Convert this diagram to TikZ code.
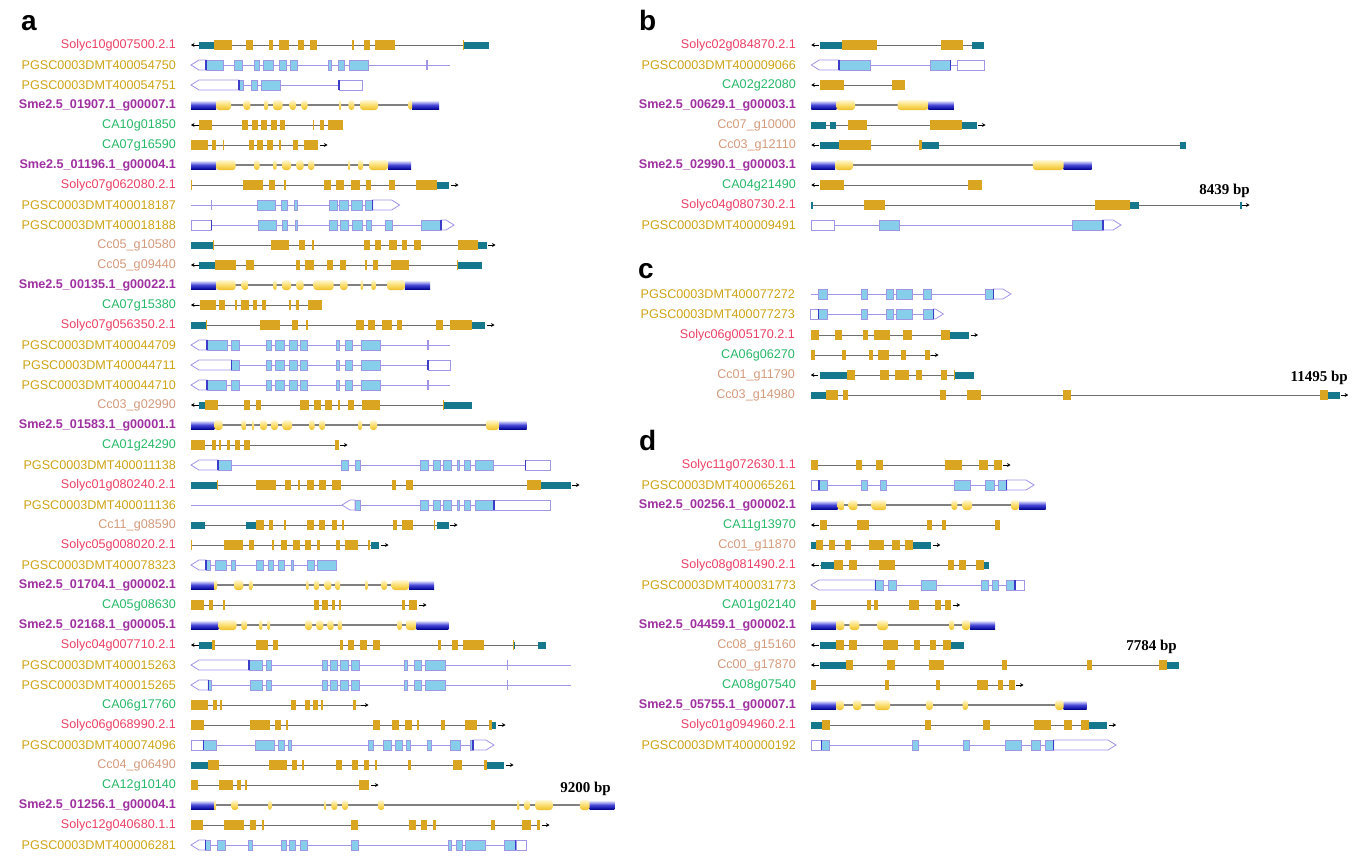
\documentclass[tikz,border=0pt]{standalone}
\usepackage{fontspec}
\setmainfont{Liberation Sans}
\newfontfamily\lserif{Liberation Serif}
\usetikzlibrary{arrows.meta}
\definecolor{solc}{RGB}{236,64,100}
\definecolor{pgsc}{RGB}{206,164,22}
\definecolor{smec}{RGB}{158,48,160}
\definecolor{cac}{RGB}{38,184,104}
\definecolor{ccc}{RGB}{212,154,124}
\definecolor{goldc}{RGB}{218,165,32}
\definecolor{tealc}{RGB}{22,120,140}
\definecolor{intronc}{RGB}{110,110,110}
\definecolor{skyc}{RGB}{135,206,235}
\definecolor{lavc}{RGB}{160,150,230}
\definecolor{markc}{RGB}{60,60,200}
\definecolor{slinec}{RGB}{128,128,128}
\definecolor{sutrtop}{RGB}{225,225,252}
\definecolor{sutrmid}{RGB}{70,70,215}
\definecolor{sutrbot}{RGB}{5,5,150}
\definecolor{sextop}{RGB}{255,248,212}
\definecolor{sexmid}{RGB}{250,222,110}
\definecolor{sexbot}{RGB}{238,190,40}
\tikzset{
 lab/.style={anchor=east, inner sep=0pt, font=\fontsize{12.6}{14}\selectfont},
 smelab/.style={lab, font=\fontsize{12.6}{14}\selectfont\bfseries},
 panel/.style={anchor=base west, inner sep=0pt, font=\fontsize{28}{30}\selectfont\bfseries},
 bplab/.style={anchor=base east, inner sep=0pt, font=\lserif\fontsize{15}{17}\selectfont\bfseries},
 intr/.style={draw=intronc, line width=0.9pt},
 arr/.style={draw=black, line width=0.8pt, -{Stealth[length=3.5pt,width=4pt]}},
 pline/.style={draw=lavc, line width=0.9pt},
 pbox/.style={draw=lavc, fill=skyc, line width=0.8pt},
 pwbox/.style={draw=lavc, fill=white, line width=0.8pt},
 pmark/.style={draw=markc, line width=1.1pt},
 ptick/.style={draw=lavc, line width=1.1pt},
 sline/.style={draw=slinec, line width=2.4pt},
 sutr/.style={top color=sutrtop, bottom color=sutrbot, middle color=sutrmid},
 sex/.style={top color=sextop, bottom color=sexbot, middle color=sexmid},
}
\newcommand{\Tl}[3]{\draw[intr] (#2,#1) -- (#3,#1);}
\newcommand{\Tc}[2]{\foreach \xa/\xb in {#2} {\fill[goldc] (\xa,#1-5) rectangle (\xb,#1+5);}}
\newcommand{\Tu}[2]{\foreach \xa/\xb in {#2} {\fill[tealc] (\xa,#1-3.5) rectangle (\xb,#1+3.5);}}
\newcommand{\La}[2]{\draw[arr] (#2+7.5,#1) -- (#2,#1);}
\newcommand{\Ra}[2]{\draw[arr] (#2,#1) -- (#2+7.5,#1);}
\newcommand{\Pl}[3]{\draw[pline] (#2,#1) -- (#3,#1);}
\newcommand{\Pe}[2]{\foreach \xa/\xb in {#2} {\filldraw[pbox] (\xa,#1-5) rectangle (\xb,#1+5);}}
\newcommand{\Pu}[2]{\foreach \xa/\xb in {#2} {\filldraw[pwbox] (\xa,#1-5) rectangle (\xb,#1+5);}}
\newcommand{\Pml}[3]{\filldraw[pwbox] (#2,#1) -- (#2+8,#1-5) -- (#3,#1-5) -- (#3,#1+5) -- (#2+8,#1+5) -- cycle;}
\newcommand{\Pmr}[3]{\filldraw[pwbox] (#2,#1-5) -- (#3-8,#1-5) -- (#3,#1) -- (#3-8,#1+5) -- (#2,#1+5) -- cycle;}
\newcommand{\Pk}[2]{\foreach \xa in {#2} {\draw[pmark] (\xa,#1-5) -- (\xa,#1+5);}}
\newcommand{\Pt}[2]{\foreach \xa in {#2} {\draw[ptick] (\xa,#1-5) -- (\xa,#1+5);}}
\newcommand{\Sl}[3]{\draw[sline] (#2,#1) -- (#3,#1);}
\newcommand{\Su}[2]{\foreach \xa/\xb in {#2} {\shade[sutr] (\xa,#1-4) rectangle (\xb,#1+4);}}
\newcommand{\Se}[2]{\foreach \xa/\xb in {#2} {\pgfmathsetmacro\rr{min(3,(\xb-\xa)/2)}\shade[sex, rounded corners=\rr pt] (\xa,#1-5) rectangle (\xb,#1+5);}}
\begin{document}
\begin{tikzpicture}[x=1pt,y=-1pt]
\useasboundingbox[fill=white] (0,0) rectangle (1359,862);
% panel letters
\node[panel] (pa) at (21,30) {a};
\node[panel] (pb) at (639,30) {b};
\node[panel] (pc) at (638,278) {c};
\node[panel] (pd) at (639,450) {d};
% ================= panel a =================
\node[lab,text=solc] (a1) at (176,45) {Solyc10g007500.2.1};
\La{45}{191}\Tl{45}{199}{489}\Tu{45}{199/213.5,463.5/489}
\Tc{45}{213.5/232,246/253,269/273,279/289,298/304,310/317,352/354,363.5/369.5,375/395,463/464}
\node[lab,text=pgsc] (a2) at (176,65) {PGSC0003DMT400054750};
\Pl{65}{206}{450}\Pml{65}{191}{206}
\Pe{65}{206/223.5,234/242.5,254/259.5,263/273,279/286.5,290.5/297.6,328.6/331.7,338/344.4,349/368}\Pt{65}{427}\Pk{65}{206}
\node[lab,text=pgsc] (a3) at (176,85) {PGSC0003DMT400054751};
\Pl{85}{239}{339}\Pml{85}{191}{239}\Pe{85}{239/243.7,251/257,261.5/280.5}\Pu{85}{339/362}\Pk{85}{239,339}
\node[smelab,text=smec] (a4) at (176,105) {Sme2.5\_01907.1\_g00007.1};
\Sl{105}{191}{439}\Su{105}{191/216,412/439}
\Se{105}{216/231,243.7/250.4,264/268,273/282.5,289.7/296,301.6/307.5,339/341,348.4/354.4,360/378,408.7/412}
\node[lab,text=cac] (a5) at (176,125) {CA10g01850};
\La{125}{191}\Tl{125}{199}{343}
\Tc{125}{199/212,242/248,252/258,260.7/267,271/276.6,280/285,313/314.3,320/324,327.8/343}
\node[lab,text=cac] (a6) at (176,145) {CA07g16590};
\Tl{145}{191}{318}\Tc{145}{191/208,212/216,222.6/223.8,249/254.4,257/263,267/273.4,278.6/281,293/298,304/318}\Ra{145}{320}
\node[smelab,text=smec] (a7) at (176,165) {Sme2.5\_01196.1\_g00004.1};
\Sl{165}{191}{411}\Su{165}{191/216,388/411}
\Se{165}{216/235.7,254/259.5,273/276.6,282/291,296.4/303.6,308/314.3,348/350,358/363,369/388}
\node[lab,text=solc] (a8) at (176,185) {Solyc07g062080.2.1};
\Tl{185}{191}{449}\Tc{185}{191/192,242.5/262.7,269/275,283.7/286,324/331,336/343.6,350.8/360,366/371,388.5/395,415.5/436.5}
\Tu{185}{436.5/449}\Ra{185}{451}
\node[lab,text=pgsc] (a9) at (176,205) {PGSC0003DMT400018187};
\Pl{205}{191}{372.6}\Pt{205}{211.5}\Pe{205}{257/275.4,281/287.7,294/297.6,329.8/337,339.7/348,351.6/362,365.5/372.6}
\Pmr{205}{372.6}{399.6}\Pk{205}{372.6}
\node[lab,text=pgsc] (a10) at (176,225) {PGSC0003DMT400018188};
\Pl{225}{211.5}{441}\Pu{225}{191/211.5}\Pe{225}{258/276.6,282.5/287.7,295/297.6,329.8/337,340.5/348.4,352.4/362,366/371,385/392,421/441}
\Pmr{225}{441}{454}\Pk{225}{211.5,441}
\node[lab,text=ccc] (a11) at (176,245) {Cc05\_g10580};
\Tl{245}{191}{487}\Tu{245}{191/212.7,478/487}
\Tc{245}{212.5/213.5,271/289,299/304.8,312/314.3,363.5/370,374.6/381.3,388.5/397,402.4/406.7,414/421,457.5/478}\Ra{245}{488}
\node[lab,text=ccc] (a12) at (176,265) {Cc05\_g09440};
\La{265}{191}\Tl{265}{199}{482}\Tu{265}{199/214.7,457/482}
\Tc{265}{214.7/235.7,246.4/253.6,296/300,305/314.3,327/333,340/346.4,364.7/367,373/378,391/409,456.5/457.5}
\node[smelab,text=smec] (a13) at (176,285) {Sme2.5\_00135.1\_g00022.1};
\Sl{285}{191}{430}\Su{285}{191/216,404.8/430}
\Se{285}{216/235.7,241.7/248.4,273.4/276.6,282/291,296.4/303.6,313.5/333.7,340/347.6,360.7/363,371.4/375.8,387/404.8}
\node[lab,text=cac] (a14) at (176,305) {CA07g15380};
\La{305}{191}\Tl{305}{199}{321.8}
\Tc{305}{200.4/216,219/225,235/237.3,241.3/248.8,252.8/257,261.5/266.3,288.5/291,295.6/299,307.5/321.8}
\node[lab,text=solc] (a15) at (176,325) {Solyc07g056350.2.1};
\Tl{325}{191}{485}\Tu{325}{191/206,472/485}
\Tc{325}{206/207,260/280,292/298,306/308.3,356.3/363.5,368/375.4,382/392,396.8/401.6,435.7/443.3,449.6/472}\Ra{325}{487}
\node[lab,text=pgsc] (a16) at (176,345) {PGSC0003DMT400044709};
\Pl{345}{207}{450}\Pml{345}{191}{207}
\Pe{345}{207/227,231.7/239.3,266/271.4,275.4/284.5,289/297,300.4/307.5,336/339.3,345.6/352.4,361.5/380}\Pt{345}{428}\Pk{345}{207}
\node[lab,text=pgsc] (a17) at (176,365) {PGSC0003DMT400044711};
\Pl{365}{231.7}{428}\Pml{365}{191}{231.7}
\Pe{365}{231.7/239.3,266/271.4,275.4/284.5,289/297,300.4/307.5,336/339.3,345.6/352.4,361.5/380}\Pu{365}{428/450}\Pk{365}{231.7,428}
\node[lab,text=pgsc] (a18) at (176,385) {PGSC0003DMT400044710};
\Pl{385}{207}{450}\Pml{385}{191}{207}
\Pe{385}{207/226.6,231.7/239.3,266/271.4,275.4/284.5,289/297,300.4/307.5,336/339.3,345.6/352.4,361.5/380}\Pt{385}{428}\Pk{385}{207}
\node[lab,text=ccc] (a19) at (176,405) {Cc03\_g02990};
\La{405}{191}\Tl{405}{199}{471.8}\Tu{405}{199/205,443/471.8}
\Tc{405}{205/218,244/250.4,256.3/260.7,300/309,314.3/320.6,325.4/331.7,338/340,348.4/353.6,362/380,442.5/443.5}
\node[smelab,text=smec] (a20) at (176,425) {Sme2.5\_01583.1\_g00001.1};
\Sl{425}{191}{526.6}\Su{425}{191/214.3,499/526.6}
\Se{425}{214.3/222.6,241.3/246.4,252/254,260/267,271/277.8,282.5/292,309/314.7,319.4/325,358/362,370/377,486/499}
\node[lab,text=cac] (a21) at (176,445) {CA01g24290};
\Tl{445}{191}{338.5}\Tc{445}{191/205,211.5/215.5,219/221.4,226.6/230,235/239.7,243.7/250.4,334.5/338.5}\Ra{445}{340}
\node[lab,text=pgsc] (a22) at (176,465) {PGSC0003DMT400011138};
\Pl{465}{218}{525.8}\Pml{465}{191}{218}
\Pe{465}{218/231.3,341.7/348.8,355/360.3,420/428.6,433/440,443.7/451,457.5/459.5,463.9/470.6,475/493.3}\Pu{465}{525.8/550.4}\Pk{465}{218,525.8}
\node[lab,text=solc] (a23) at (176,485) {Solyc01g080240.2.1};
\Tl{485}{191}{570.6}\Tu{485}{191/217.5,541/570.6}
\Tc{485}{217/218,256/275.8,285.3/291.3,297.6/299.6,306.7/314,319/325.8,331.7/341.3,391.7/396.4,405.6/413,526.6/541}\Ra{485}{572}
\node[lab,text=pgsc] (a24) at (176,505) {PGSC0003DMT400011136};
\Pl{505}{191}{494}\Pml{505}{342}{355}
\Pe{505}{355/360.3,420/428.6,433/440,443.7/451,457.5/459.5,463.9/470.6,475/494}\Pu{505}{494/550.4}\Pk{505}{494}
\node[lab,text=ccc] (a25) at (176,525) {Cc11\_g08590};
\Tl{525}{191}{448.8}\Tu{525}{191/205,246.4/256.3,436.5/448.8}
\Tc{525}{256.3/263.5,268.7/273.4,284/286,307/314,319/325.4,331.7/337,341.7/343.6,393/397,402.4/412.7,433.5/434.5}\Ra{525}{450}
\node[lab,text=solc] (a26) at (176,545) {Solyc05g008020.2.1};
\Tl{545}{191}{379.4}
\Tc{545}{191/192,223.8/243.3,248.8/254.4,271.8/273.8,280.6/287.3,292.9/300,305/311,316.7/319.8,335.7/340,345.2/357.5,367.9/369.8}
\Tu{545}{371/379.4}\Ra{545}{381}
\node[lab,text=pgsc] (a27) at (176,565) {PGSC0003DMT400078323};
\Pl{565}{206}{336.5}\Pml{565}{191}{206}
\Pe{565}{206/210.3,215.5/226.2,231.3/235,256.7/263.5,267.9/273.8,278.6/284.5,290.9/292.9,307.5/314,317.5/336.5}\Pk{565}{206}
\node[smelab,text=smec] (a28) at (176,585) {Sme2.5\_01704.1\_g00002.1};
\Sl{585}{191}{434}\Su{585}{191/214.3,409/434}
\Se{585}{214.3/217,234/243.3,248.8/252.8,306/308.7,313.9/319,324.6/331.3,335.3/340,365/367.9,381.3/387,391.7/409}
\node[lab,text=cac] (a29) at (176,605) {CA05g08630};
\Tl{605}{191}{417}\Tc{605}{191/204.4,208.7/212.7,223/225,313.9/319,321.8/327.8,331.7/335.3,338.9/341.3,401.6/405,408.7/417}\Ra{605}{419}
\node[smelab,text=smec] (a30) at (176,625) {Sme2.5\_02168.1\_g00005.1};
\Sl{625}{191}{448.4}\Su{625}{191/218.3,416.7/448.4}
\Se{625}{218.3/236.5,241.3/247.2,259.5/262.3,267/270.2,305/312,316.3/323.4,327.4/333.7,337.7/342,397.2/402,406/416.7}
\node[lab,text=solc] (a31) at (176,645) {Solyc04g007710.2.1};
\La{645}{191}\Tl{645}{199}{546}\Tu{645}{199/212.3,513/515,537.7/546}
\Tc{645}{212.3/214.7,255.6/268.3,273/277.8,339.7/342.9,348.4/354.4,359.5/367,373/379.8,437.7/440.5,451.6/457.5,462.7/483.7,512.5/513.5}
\node[lab,text=pgsc] (a32) at (176,665) {PGSC0003DMT400015263};
\Pl{665}{249}{570.6}\Pml{665}{191}{249}
\Pe{665}{249/262.7,265.9/271,322.2/327,330.6/337.3,340.5/348.4,351.6/359,404/407.5,414.3/421,425.8/445.2}\Pt{665}{507.5}\Pk{665}{249}
\node[lab,text=pgsc] (a33) at (176,685) {PGSC0003DMT400015265};
\Pl{685}{208.3}{570.6}\Pml{685}{191}{208.3}
\Pe{685}{208.3/211,250/262.7,265.9/271,322.2/327,330.6/337.3,340.5/348.4,351.6/359,404/407.5,414.3/421,425.8/445.2}\Pt{685}{507.5}\Pk{685}{208.3}
\node[lab,text=cac] (a34) at (176,705) {CA06g17760};
\Tl{705}{191}{361}\Tc{705}{191/208.3,213/216.7,220.2/222.2,290.9/295.6,304.8/309.5,313/317.9,321.4/323.4,352.8/356}\Ra{705}{361}
\node[lab,text=solc] (a35) at (176,725) {Solyc06g068990.2.1};
\Tl{725}{191}{496.4}
\Tc{725}{191/204.4,250.4/270,275.4/280.6,286/288,373.4/379.8,391.7/398.8,404.8/411.5,416.7/419.4,440.9/445.2,465/477,489/492}
\Tu{725}{492/496.4}\Ra{725}{498}
\node[lab,text=pgsc] (a36) at (176,745) {PGSC0003DMT400074096};
\Pl{745}{203.2}{473}\Pu{745}{191/203.2}
\Pe{745}{203.2/216.3,255.2/274.6,278.6/284,288/291,367.9/373.8,383.7/390.9,395.6/402,406/410,427.8/431.7,450/460.3,470.2/473}
\Pmr{745}{473}{494}\Pk{745}{203.2,473}
\node[lab,text=ccc] (a37) at (176,765) {Cc04\_g06490};
\Tl{765}{191}{504}\Tu{765}{191/208,487/504}
\Tc{765}{208/218.7,269/287,291.7/296.8,302.4/304.4,335.7/341.7,352/358.3,363.9/369.4,375/377,407.5/411,452.8/462.3,483.7/487}\Ra{765}{506}
\node[lab,text=cac] (a38) at (176,785) {CA12g10140};
\Tl{785}{191}{369.4}\Tc{785}{191/198.4,219.4/233.3,237.3/241.3,244.8/246.8,359/369.4}\Ra{785}{371}
\node[bplab] (bpa) at (611,792) {9200 bp};
\node[smelab,text=smec] (a39) at (176,805) {Sme2.5\_01256.1\_g00004.1};
\Sl{805}{191}{614.3}\Su{805}{191/214.3,589.7/614.3}
\Se{805}{214.3/216.3,231.3/238.5,268.3/271.4,324.6/326.2,331.3/337.3,342/348,377.8/384.5,517/519.4,524.2/529.8,535.3/552.8,579.8/589.7}
\node[lab,text=solc] (a40) at (176,825) {Solyc12g040680.1.1};
\Tl{825}{191}{540}
\Tc{825}{191/203.2,224.2/244,250.4/256,262/264.3,350.8/358.3,408.7/415.5,421/427.4,432.5/435.7,491.3/495.2,521.8/530.6,537.3/540}\Ra{825}{542}
\node[lab,text=pgsc] (a41) at (176,845) {PGSC0003DMT400006281};
\Pl{845}{205.6}{515.9}\Pml{845}{191}{205.6}
\Pe{845}{205.6/210.3,217/225.8,248/252.8,281.7/286.5,289.3/295.6,300.4/307.5,351.2/358.7,448.4/451.6,456/462.3,465.5/485.3,504.8/515.9}
\Pu{845}{515.9/526.2}\Pk{845}{205.6,515.9}
% ================= panel b =================
\node[lab,text=solc] (b1) at (796,45) {Solyc02g084870.2.1};
\La{45}{811.3}\Tl{45}{819.7}{984.4}\Tu{45}{819.7/842.3,972/984.4}\Tc{45}{842.3/876.8,941/962.5}
\node[lab,text=pgsc] (b2) at (796,65) {PGSC0003DMT400009066};
\Pl{65}{839}{957.4}\Pml{65}{811.3}{839}\Pe{65}{839/870.5,930.4/950.2}\Pu{65}{957.4/984}\Pk{65}{839,950.2}
\node[lab,text=cac] (b3) at (796,85) {CA02g22080};
\La{85}{811.3}\Tl{85}{819.7}{905.4}\Tc{85}{819.7/843.5,891.9/905.4}
\node[smelab,text=smec] (b4) at (796,105) {Sme2.5\_00629.1\_g00003.1};
\Sl{105}{811.3}{953.8}\Su{105}{811.3/836.3,928.4/953.8}\Se{105}{836.3/855,897.5/928.4}
\node[lab,text=ccc] (b5) at (796,125) {Cc07\_g10000};
\Tl{125}{811.3}{976.8}\Tu{125}{811.3/826.4,830.4/836.3,962/976.8}\Tc{125}{847.5/867,930/962}\Ra{125}{978}
\node[lab,text=ccc] (b6) at (796,145) {Cc03\_g12110};
\La{145}{811.3}\Tl{145}{819.7}{1185.6}\Tu{145}{819.7/839,922/938.7,1180.4/1185.6}\Tc{145}{839/870.5,918.9/922}
\node[smelab,text=smec] (b7) at (796,165) {Sme2.5\_02990.1\_g00003.1};
\Sl{165}{811.3}{1091.5}\Su{165}{811.3/835.2,1063.7/1091.5}\Se{165}{835.2/853,1032.8/1063.7}
\node[lab,text=cac] (b8) at (796,185) {CA04g21490};
\La{185}{811.3}\Tl{185}{819.7}{982}\Tc{185}{819.7/843.9,967.7/982}
\node[bplab] (bpb) at (1250,194) {8439 bp};
\node[lab,text=solc] (b9) at (796,205) {Solyc04g080730.2.1};
\Tl{205}{811}{1241}\Tu{205}{811/812.5,1130/1139,1240/1241.5}\Tc{205}{864/884.8,1095/1130}\Ra{205}{1242}
\node[lab,text=pgsc] (b10) at (796,225) {PGSC0003DMT400009491};
\Pl{225}{834.4}{1103}\Pu{225}{811.3/834.4}\Pe{225}{879/899,1072.5/1103}\Pmr{225}{1103}{1121}\Pk{225}{1103}
% ================= panel c =================
\node[lab,text=pgsc] (c1) at (795,294) {PGSC0003DMT400077272};
\Pl{294}{810.8}{993.4}\Pe{294}{818.6/826.9,860.9/866.9,886.7/893.1,896.8/912,923/931.3,985.1/993.4}\Pmr{294}{993.4}{1010.9}\Pk{294}{993.4}
\node[lab,text=pgsc] (c2) at (795,314) {PGSC0003DMT400077273};
\Pl{314}{818.6}{933.6}\Pu{314}{810.8/818.6}\Pe{314}{818.6/826.9,861.8/866.9,886.7/893.1,896.8/912,923/933.6}\Pmr{314}{933.6}{943.3}\Pk{314}{818.6,933.6}
\node[lab,text=solc] (c3) at (795,335) {Solyc06g005170.2.1};
\Tl{335}{810.8}{969}\Tc{335}{810.8/819,835.2/841.6,862.8/868.3,873.8/890.4,902.8/911.5,941.4/949.7}\Tu{335}{949.7/969}\Ra{335}{970.5}
\node[lab,text=cac] (c4) at (795,355) {CA06g06270};
\Tl{355}{810.8}{931}\Tc{355}{810.8/815.4,841.6/845.7,868.7/872.9,878.4/889,901.4/906.4,924.8/929.9}\Ra{355}{931}
\node[lab,text=ccc] (c5) at (795,375) {Cc01\_g11790};
\La{375}{810.8}\Tl{375}{819.5}{974}\Tu{375}{819.5/847,955.2/974}\Tc{375}{847/854.5,880.2/888.5,894.5/908.7,915.6/921.6,941.4/946.9,953.8/955.2}
\node[bplab] (bpc) at (1348,381) {11495 bp};
\node[lab,text=ccc] (c6) at (795,395) {Cc03\_g14980};
\Tl{395}{810.8}{1339.7}\Tu{395}{810.8/826.4,1328.2/1339.7}\Tc{395}{826.4/837.5,842.5/848,940/945.6,966.7/981.4,1063.3/1070.7,1320.4/1328.2}\Ra{395}{1340.7}
% ================= panel d =================
\node[lab,text=solc] (d1) at (796,465) {Solyc11g072630.1.1};
\Tl{465}{811}{1001.8}\Tc{465}{811/818,855.8/862,876.4/883.2,945/962,979.2/988.3,993.5/1001.8}\Ra{465}{1003}
\node[lab,text=pgsc] (d2) at (796,485) {PGSC0003DMT400065261};
\Pl{485}{819}{1006.6}\Pu{485}{811/819}\Pe{485}{819/827.2,861/867.3,880/886.3,954.2/970,985.2/994,998.7/1006.6}\Pmr{485}{1006.6}{1034}\Pk{485}{819,1006.6}
\node[smelab,text=smec] (d3) at (796,505) {Sme2.5\_00256.1\_g00002.1};
\Sl{505}{811}{1045.5}\Su{505}{811/837.5,1019/1045.5}\Se{505}{837.5/844.7,848.7/857.4,871.7/886.7,951.4/957.4,962.5/972,1011/1019}
\node[lab,text=cac] (d4) at (796,525) {CA11g13970};
\La{525}{811}\Tl{525}{819.7}{999.8}\Tc{525}{819.7/827.2,857.4/868.5,927.2/932,942.3/945.9,994.7/999.8}
\node[lab,text=ccc] (d5) at (796,545) {Cc01\_g11870};
\Tl{545}{811}{930.8}\Tu{545}{811/815.7,913/930.8}\Tc{545}{815.7/823.3,829.2/835.2,844.7/850.6,868.9/884,892.3/899.8,905/913}\Ra{545}{932.8}
\node[lab,text=solc] (d6) at (796,565) {Solyc08g081490.2.1};
\La{565}{811}\Tl{565}{819.7}{989}\Tu{565}{820.5/833.6,984.4/989}\Tc{565}{833.6/842.7,848.7/857.4,878.8/895,947.5/953.8,959.4/965.7,976/984.4}
\node[lab,text=pgsc] (d7) at (796,585) {PGSC0003DMT400031773};
\Pl{585}{875.2}{1015}\Pml{585}{811}{875.2}\Pe{585}{875.2/883.6,888.3/896.7,921.3/936.7,981.6/988.3,992.3/998.3,1006.2/1015}\Pu{585}{1015/1024}\Pk{585}{875.2,1015}
\node[lab,text=cac] (d8) at (796,605) {CA01g02140};
\Tl{605}{811}{950.6}\Tc{605}{811/815.7,866.9/871.3,874/878.4,908.6/919.3,935.2/941.1,945/950.6}\Ra{605}{952.6}
\node[smelab,text=smec] (d9) at (796,625) {Sme2.5\_04459.1\_g00002.1};
\Sl{625}{811}{995}\Su{625}{811/836,970/995}\Se{625}{836/844.3,849.4/859.4,877.2/888,949/954.2,962/970}
\node[lab,text=ccc] (d10) at (796,645) {Cc08\_g15160};
\La{645}{811}\Tl{645}{819.7}{964}\Tu{645}{819.7/835.6,951/964}\Tc{645}{835.6/844.3,848.7/857,882.8/897.5,913.7/920,930.4/936,942.7/951}
\node[bplab] (bpd) at (1177,650) {7784 bp};
\node[lab,text=ccc] (d11) at (796,665) {Cc00\_g17870};
\La{665}{811}\Tl{665}{819.7}{1178.8}\Tu{665}{819.7/845.9,1167/1178.8}\Tc{665}{845.9/853.4,886.7/895,929.2/944.3,1001.8/1007.4,1086.7/1092.3,1159/1167}
\node[lab,text=cac] (d12) at (796,685) {CA08g07540};
\Tl{685}{811}{1014.5}\Tc{685}{811/816,885.2/889,936/940,976.8/988,997.5/1003.4,1009.4/1014.5}\Ra{685}{1016}
\node[smelab,text=smec] (d13) at (796,705) {Sme2.5\_05755.1\_g00007.1};
\Sl{705}{811}{1086.7}\Su{705}{811/836,1063.7/1086.7}\Se{705}{836/843.9,853/861.3,874.8/890,926/932.8,962.5/968,1055.4/1063.7}
\node[lab,text=solc] (d14) at (796,725) {Solyc01g094960.2.1};
\Tl{725}{811}{1106.6}\Tu{725}{811/822,1089/1106.6}\Tc{725}{822/830,924.8/931.2,983.2/989.5,1034/1050.6,1063.7/1072,1081.2/1089}\Ra{725}{1108.6}
\node[lab,text=pgsc] (d15) at (796,745) {PGSC0003DMT400000192};
\Pl{745}{821.3}{1053.8}\Pu{745}{811/821.3}\Pe{745}{821.3/829.2,912/918.5,963.3/969.7,1005.4/1021,1031.6/1040,1045.5/1053.8}\Pmr{745}{1053.8}{1116}\Pk{745}{821.3,1053.8}
\end{tikzpicture}
\end{document}
